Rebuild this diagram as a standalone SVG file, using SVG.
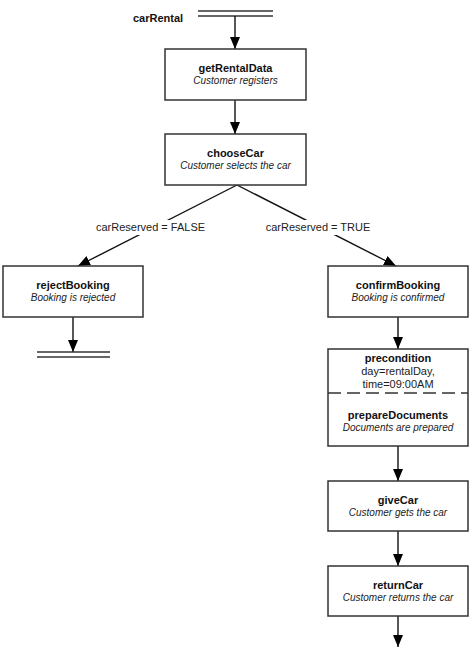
<svg xmlns="http://www.w3.org/2000/svg" width="471" height="648" viewBox="0 0 471 648">
<style>
.box{fill:#fff;stroke:#333;stroke-width:1.5}
.t{font-family:"Liberation Sans",Arial,sans-serif;font-size:11px;font-weight:bold;fill:#111;text-anchor:middle}
.s{font-family:"Liberation Sans",Arial,sans-serif;font-size:10px;font-style:italic;fill:#222;text-anchor:middle}
.r{font-family:"Liberation Sans",Arial,sans-serif;font-size:11px;fill:#222;text-anchor:middle}
.ln{stroke:#111;stroke-width:1.4;fill:none}
.bar{stroke:#333;stroke-width:1.4}
</style>
<defs>
<marker id="ah" markerUnits="userSpaceOnUse" markerWidth="12" markerHeight="10" refX="12" refY="5" orient="auto">
<path d="M0,0 L12,5 L0,10 z" fill="#000"/>
</marker>
</defs>
<g id="start">
<text x="158" y="22" class="t" text-anchor="middle">carRental</text>
<line x1="198" y1="11" x2="273" y2="11" class="bar"/>
<line x1="198" y1="16" x2="273" y2="16" class="bar"/>
</g>
<g id="connectors">
<line x1="235" y1="16" x2="235" y2="49" class="ln" marker-end="url(#ah)"/>
<line x1="235" y1="100" x2="235" y2="134" class="ln" marker-end="url(#ah)"/>
<line x1="237" y1="185" x2="78" y2="266" class="ln" marker-end="url(#ah)"/>
<line x1="237" y1="185" x2="396" y2="266" class="ln" marker-end="url(#ah)"/>
<line x1="73" y1="317" x2="73" y2="352" class="ln" marker-end="url(#ah)"/>
<line x1="398" y1="317" x2="398" y2="349" class="ln" marker-end="url(#ah)"/>
<line x1="398" y1="446" x2="398" y2="481" class="ln" marker-end="url(#ah)"/>
<line x1="398" y1="531" x2="398" y2="566" class="ln" marker-end="url(#ah)"/>
<line x1="398" y1="616" x2="398" y2="647" class="ln" marker-end="url(#ah)"/>
<rect x="93" y="220" width="115" height="15" fill="#fff"/>
<text x="150.5" y="231" class="r">carReserved = FALSE</text>
<rect x="263" y="220" width="110" height="15" fill="#fff"/>
<text x="318" y="231" class="r">carReserved = TRUE</text>
</g>
<g id="getRentalData">
<rect x="165" y="49" width="141" height="51" class="box"/>
<text x="235.5" y="72" class="t">getRentalData</text>
<text x="235.5" y="84" class="s">Customer registers</text>
</g>
<g id="chooseCar">
<rect x="165" y="134" width="141" height="51" class="box"/>
<text x="235.5" y="157" class="t">chooseCar</text>
<text x="235.5" y="169" class="s">Customer selects the car</text>
</g>
<g id="rejectBooking">
<rect x="3" y="266" width="140" height="51" class="box"/>
<text x="73" y="289" class="t">rejectBooking</text>
<text x="73" y="301" class="s">Booking is rejected</text>
</g>
<g id="end">
<line x1="37" y1="352" x2="110" y2="352" class="bar"/>
<line x1="37" y1="357" x2="110" y2="357" class="bar"/>
</g>
<g id="confirmBooking">
<rect x="328" y="266" width="140" height="51" class="box"/>
<text x="398" y="289" class="t">confirmBooking</text>
<text x="398" y="301" class="s">Booking is confirmed</text>
</g>
<g id="prepareDocuments">
<rect x="328" y="349" width="140" height="97" class="box"/>
<text x="398" y="362" class="t">precondition</text>
<text x="398" y="375" class="r">day=rentalDay,</text>
<text x="398" y="388" class="r">time=09:00AM</text>
<line x1="328" y1="393" x2="468" y2="393" stroke="#333" stroke-width="1.4" stroke-dasharray="13,6"/>
<text x="398" y="419" class="t">prepareDocuments</text>
<text x="398" y="431" class="s">Documents are prepared</text>
</g>
<g id="giveCar">
<rect x="328" y="481" width="140" height="50" class="box"/>
<text x="398" y="504" class="t">giveCar</text>
<text x="398" y="516" class="s">Customer gets the car</text>
</g>
<g id="returnCar">
<rect x="328" y="566" width="140" height="50" class="box"/>
<text x="398" y="589" class="t">returnCar</text>
<text x="398" y="601" class="s">Customer returns the car</text>
</g>
</svg>
